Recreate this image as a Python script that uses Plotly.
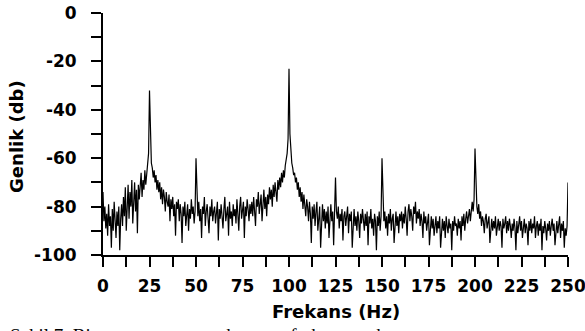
import plotly.graph_objects as go

# Spectrum amplitude (dB), one value every 0.5 Hz from 0 to 250 Hz
FREQ_STEP_HZ = 0.5
amplitude_db = [
    # 0 - 9.5
    -74, -86, -80, -89, -83, -92, -79, -88, -84, -97, -81, -90, -78, -86, -93, -82, -88, -80, -98, -85,
    # 10 - 19.5
    -79, -88, -76, -84, -72, -90, -78, -71, -85, -74, -80, -69, -87, -75, -70, -82, -73, -91, -71, -77,
    # 20 - 24.5
    -70, -66, -76, -69, -73, -65, -71, -67, -63, -58,
    # 25 - 29.5
    -32, -52, -62, -64, -68, -65, -70, -67, -73, -69,
    # 30 - 39.5
    -74, -70, -77, -72, -79, -73, -76, -82, -74, -78, -80, -75, -86, -77, -81, -76, -84, -79, -92, -78,
    # 40 - 49.5
    -81, -77, -86, -79, -83, -95, -80, -84, -78, -88, -82, -79, -90, -81, -85, -77, -83, -80, -87, -82,
    # 50 - 50.5
    -60, -79,
    # 51 - 59.5
    -84, -78, -86, -81, -93, -80, -83, -76, -88, -82, -79, -85, -91, -80, -84, -77, -86, -82,
    # 60 - 69.5
    -80, -87, -83, -78, -94, -81, -85, -79, -84, -89, -81, -76, -86, -83, -80, -92, -78, -85, -82, -88,
    # 70 - 79.5
    -79, -84, -81, -87, -77, -83, -90, -80, -76, -85, -82, -78, -93, -80, -84, -77, -81, -86, -79, -83,
    # 80 - 89.5
    -78, -84, -76, -81, -88, -77, -80, -74, -83, -79, -75, -86, -78, -73, -81, -76, -84, -75, -79, -72,
    # 90 - 99.5
    -77, -73, -80, -71, -76, -70, -74, -78, -69, -73, -68, -72, -66, -70, -65, -68, -63, -60, -58, -52,
    # 100 - 104.5
    -23, -50, -58, -62, -64, -67, -66, -70, -68, -73,
    # 105 - 109.5
    -70, -76, -72, -78, -74, -81, -75, -79, -84, -77,
    # 110 - 119.5
    -80, -86, -78, -83, -95, -80, -85, -79, -88, -82, -78, -90, -84, -80, -97, -83, -79, -86, -81, -89,
    # 120 - 124.5
    -82, -87, -80, -93, -84, -79, -86, -82, -96, -81,
    # 125 - 125.5
    -68, -82,
    # 126 - 129.5
    -85, -80, -89, -83, -86, -81, -94, -84,
    # 130 - 139.5
    -82, -88, -84, -80, -91, -83, -86, -82, -97, -85, -81, -88, -84, -90, -82, -86, -93, -83, -87, -81,
    # 140 - 149.5
    -85, -90, -83, -88, -82, -96, -84, -87, -81, -89, -85, -92, -83, -86, -98, -84, -88, -82, -90, -84,
    # 150 - 150.5
    -60, -80,
    # 151 - 159.5
    -86, -82, -89, -84, -92, -83, -87, -81, -90, -85, -83, -95, -86, -82, -88, -84, -91, -83,
    # 160 - 169.5
    -86, -82, -89, -83, -87, -80, -85, -92, -82, -79, -86, -81, -84, -90, -80, -83, -78, -87, -82, -85,
    # 170 - 179.5
    -81, -88, -83, -86, -93, -82, -87, -84, -90, -85, -83, -96, -86, -84, -89, -85, -92, -87, -84, -91,
    # 180 - 189.5
    -86, -89, -84, -97, -87, -85, -90, -86, -93, -84, -88, -91, -85, -89, -87, -98, -86, -90, -84, -88,
    # 190 - 199.5
    -87, -92, -85, -89, -86, -94, -84, -88, -83, -90, -85, -82, -87, -84, -81, -86, -80, -78, -82, -77,
    # 200 - 200.5
    -56, -76,
    # 201 - 209.5
    -80, -83, -79, -85, -82, -88, -84, -86, -91, -85, -83, -89, -86, -84, -95, -87, -85, -90,
    # 210 - 219.5
    -86, -89, -84, -92, -87, -85, -90, -86, -88, -97, -85, -89, -87, -84, -91, -86, -90, -85, -88, -93,
    # 220 - 229.5
    -87, -90, -85, -89, -98, -86, -91, -87, -84, -90, -86, -93, -88, -85, -91, -87, -89, -96, -86, -90,
    # 230 - 239.5
    -85, -91, -87, -89, -84, -93, -88, -86, -92, -87, -90, -85, -98, -88, -91, -86, -89, -94, -87, -90,
    # 240 - 249.5
    -86, -92, -88, -85, -90, -87, -96, -89, -86, -91, -88, -84, -93, -87, -90, -86, -97, -89, -92, -88,
    # 250
    -70,
]
frequency_hz = [i * FREQ_STEP_HZ for i in range(len(amplitude_db))]

x_tick_vals = [0, 12.5, 25, 37.5, 50, 62.5, 75, 87.5, 100, 112.5, 125, 137.5, 150,
               162.5, 175, 187.5, 200, 212.5, 225, 237.5, 250]
x_tick_text = ["0", "", "25", "", "50", "", "75", "", "100", "", "125", "", "150",
               "", "175", "", "200", "", "225", "", "250"]
y_tick_vals = [0, -10, -20, -30, -40, -50, -60, -70, -80, -90, -100]
y_tick_text = ["0", "", "-20", "", "-40", "", "-60", "", "-80", "", "-100"]

x_title = "Frekans (Hz)"
y_title = "Genlik (db)"
caption = "Şekil 7. Bir motorun stator akımının frekans spektrumu"

FONT = "DejaVu Sans"

fig = go.Figure()
fig.add_trace(go.Scatter(
    x=frequency_hz, y=amplitude_db, mode="lines",
    line=dict(color="black", width=1.2), hoverinfo="skip", showlegend=False,
))

axis_common = dict(
    showline=True, linecolor="black", linewidth=2,
    ticks="outside", tickcolor="black", tickwidth=2, ticklen=10,
    showgrid=False, zeroline=False, ticklabeloverflow="allow", automargin=False,
    tickfont=dict(family=FONT, size=17, color="black", weight="bold"),
)

fig.update_layout(
    width=585, height=331,
    margin=dict(l=103, r=17, t=13, b=76),
    paper_bgcolor="white", plot_bgcolor="white",
    xaxis=dict(range=[0, 250], tickmode="array", tickvals=x_tick_vals,
               ticktext=x_tick_text, ticklabelstandoff=5, **axis_common),
    yaxis=dict(range=[-100, 0], tickmode="array", tickvals=y_tick_vals,
               ticktext=y_tick_text, ticklabelstandoff=11, **axis_common),
    annotations=[
        dict(text=x_title, xref="paper", yref="paper", x=0.5, y=-0.2335,
             xanchor="center", yanchor="middle", showarrow=False,
             font=dict(family=FONT, size=18, color="black", weight="bold")),
        dict(text=y_title, xref="paper", yref="paper", x=-0.185, y=0.492,
             xanchor="center", yanchor="middle", showarrow=False, textangle=-90,
             font=dict(family=FONT, size=18, color="black", weight="bold")),
        dict(text=caption, xref="paper", yref="paper", x=-0.205, y=-0.282,
             xanchor="left", yanchor="top", showarrow=False,
             font=dict(family="Liberation Serif", size=19, color="black")),
    ],
)

fig.write_html("out.html")
